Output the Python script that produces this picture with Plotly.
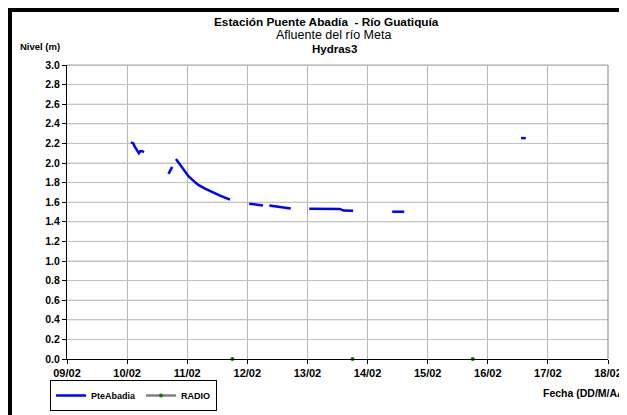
import plotly.graph_objects as go

# ---- data ----
pte_time = [
    "2011-02-10 01:30", "2011-02-10 02:30", "2011-02-10 03:00", "2011-02-10 04:00",
    "2011-02-10 04:40", "2011-02-10 05:10", "2011-02-10 06:00", "2011-02-10 06:45", None,
    "2011-02-10 16:30", "2011-02-10 18:00", None,
    "2011-02-10 19:30", "2011-02-10 21:00", "2011-02-10 23:00", "2011-02-11 00:30",
    "2011-02-11 02:24", "2011-02-11 04:26", "2011-02-11 07:06", "2011-02-11 09:47",
    "2011-02-11 13:06", "2011-02-11 17:05", None,
    "2011-02-12 00:43", "2011-02-12 03:04", "2011-02-12 06:14", None,
    "2011-02-12 08:47", "2011-02-12 13:03", "2011-02-12 17:20", None,
    "2011-02-13 00:43", "2011-02-13 12:58", "2011-02-13 14:24", "2011-02-13 18:14", None,
    "2011-02-14 09:50", "2011-02-14 14:38", None,
    "2011-02-16 13:17", "2011-02-16 15:10",
]
pte_level = [
    2.21, 2.20, 2.17, 2.13, 2.10, 2.12, 2.12, 2.11, None,
    1.89, 1.96, None,
    2.04, 1.99, 1.92, 1.865, 1.82, 1.776, 1.738, 1.705, 1.667, 1.626, None,
    1.585, 1.577, 1.567, None,
    1.567, 1.55, 1.536, None,
    1.533, 1.531, 1.515, 1.513, None,
    1.503, 1.503, None,
    2.254, 2.254,
]
radio_time = ["2011-02-11 18:00", None, "2011-02-13 18:00", None, "2011-02-15 18:00"]
radio_level = [0.0, None, 0.0, None, 0.0]

x_ticks = ["2011-02-09", "2011-02-10", "2011-02-11", "2011-02-12", "2011-02-13",
           "2011-02-14", "2011-02-15", "2011-02-16", "2011-02-17", "2011-02-18"]
x_tick_labels = ["09/02", "10/02", "11/02", "12/02", "13/02", "14/02", "15/02", "16/02", "17/02", "18/02"]
y_ticks = [round(i * 0.2, 1) for i in range(16)]
y_tick_labels = [f"{v:.1f}" for v in y_ticks]

# ---- layout geometry (page pixels; the page body adds an 8px offset) ----
OFF = 8
W, H = 627, 415
L, R, T, B = 67 - OFF, 608 - OFF, 65 - OFF, 359 - OFF
PW, PH = R - L, B - T

def px(x):
    return (x - OFF - L) / PW

def py(y):
    return (B - (y - OFF)) / PH

FONT = "Liberation Sans, Arial, sans-serif"

fig = go.Figure()

# horizontal gridlines, drawn through the axes' own scales (behind the data)
grid_x, grid_y = [], []
for v in y_ticks[1:]:
    grid_x += [x_ticks[0], x_ticks[-1], None]
    grid_y += [v, v, None]
fig.add_trace(go.Scatter(
    x=grid_x, y=grid_y, mode="lines", line=dict(color="#C4C4C4", width=1),
    showlegend=False, hoverinfo="skip", connectgaps=False,
))

fig.add_trace(go.Scatter(
    x=pte_time, y=pte_level, name="PteAbadia", mode="lines",
    line=dict(color="#0000FF", width=2.5), connectgaps=False,
))
fig.add_trace(go.Scatter(
    x=radio_time, y=radio_level, name="RADIO", mode="lines+markers",
    line=dict(color="#808080", width=2.5),
    marker=dict(color="#008000", size=4), connectgaps=False, cliponaxis=False,
))

fig.update_layout(
    template="none",
    width=W, height=H,
    margin=dict(l=L, r=W - R, t=T, b=H - B, pad=0, autoexpand=False),
    paper_bgcolor="white", plot_bgcolor="white",
    font=dict(family=FONT, size=10, color="black"),
    showlegend=True,
    legend=dict(
        orientation="h", x=px(50), y=py(380), xanchor="left", yanchor="top",
        bordercolor="black", borderwidth=1, bgcolor="white",
        font=dict(family=FONT, size=9, color="black", weight="bold"),
        itemwidth=30, tracegroupgap=0,
    ),
    xaxis=dict(
        type="date", range=[x_ticks[0], x_ticks[-1]],
        tickmode="array", tickvals=x_ticks, ticktext=[f"<b>{t}</b>" for t in x_tick_labels],
        showgrid=True, gridcolor="#B8B8B8", gridwidth=1,
        showline=True, linecolor="black", linewidth=1,
        ticks="outside", ticklen=4, tickcolor="black",
        tickfont=dict(family=FONT, size=11, color="black"),
        zeroline=False,
    ),
    yaxis=dict(
        range=[0, 3.0], tickmode="array", tickvals=y_ticks,
        ticktext=[f"<b>{t}</b>" for t in y_tick_labels],
        showgrid=True, gridcolor="#C4C4C4", gridwidth=1,
        showline=True, linecolor="black", linewidth=1,
        ticks="outside", ticklen=4, tickcolor="black",
        tickfont=dict(family=FONT, size=10.5, color="black"),
        zeroline=False,
    ),
)

annots = [
    dict(text="<b>Estación Puente Abadía  - Río Guatiquía</b>", x=px(326), y=py(22), size=11.8, anchor="center"),
    dict(text="Afluente del río Meta", x=px(333), y=py(35.5), size=12.5, anchor="center"),
    dict(text="<b>Hydras3</b>", x=px(334), y=py(48.5), size=11.5, anchor="center"),
    dict(text="<b>Nivel (m)</b>", x=px(40), y=py(46), size=9.5, anchor="center"),
    dict(text="<b>Fecha (DD/M/AA)</b>", x=px(541), y=py(393), size=10.5, anchor="left"),
]
for a in annots:
    fig.add_annotation(text=a["text"], x=a["x"], y=a["y"], xref="paper", yref="paper",
                       showarrow=False, xanchor=a["anchor"], yanchor="middle",
                       font=dict(family=FONT, size=a["size"], color="black"))

shapes = [
    # black frame (left and top)
    dict(type="rect", x0=px(7), x1=px(12), y0=py(7), y1=py(H + OFF), fillcolor="black", line=dict(width=0)),
    dict(type="rect", x0=px(7), x1=px(W + OFF), y0=py(7), y1=py(12), fillcolor="black", line=dict(width=0)),
    # plot area right and top edges
    dict(type="line", x0=1, x1=1, y0=0, y1=1, line=dict(color="#808080", width=1)),
    dict(type="line", x0=0, x1=1, y0=1, y1=1, line=dict(color="#A0A0A0", width=1)),
]
for s in shapes:
    fig.add_shape(xref="paper", yref="paper", layer="above", **s)

fig.write_html("out.html")
